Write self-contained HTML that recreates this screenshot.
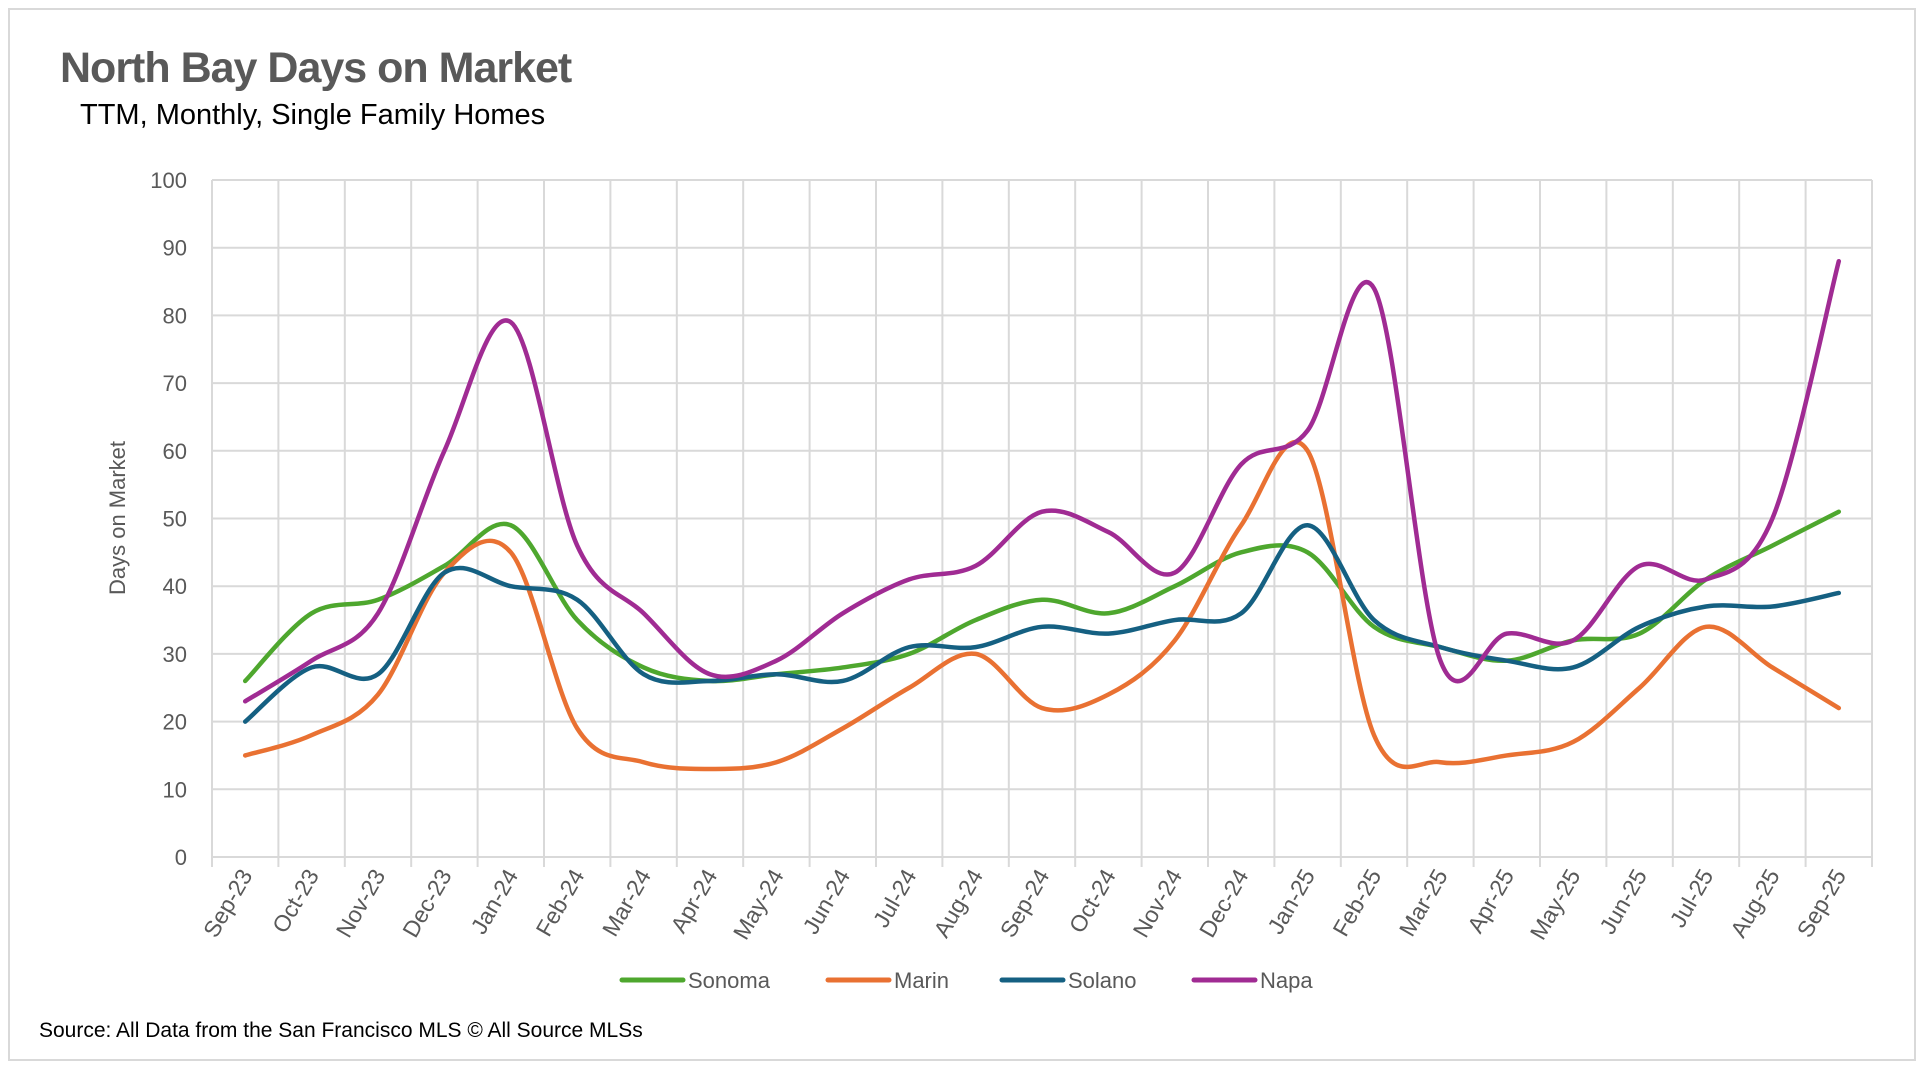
<!DOCTYPE html>
<html><head><meta charset="utf-8"><style>
html,body{margin:0;padding:0;background:#fff;}
svg{display:block;font-family:"Liberation Sans",sans-serif;}
</style></head><body>
<svg id="chart" width="1920" height="1067">
<rect x="9" y="9" width="1906" height="1051" fill="#fff" stroke="#d9d9d9" stroke-width="2"/>
<text x="60" y="82" font-size="43" font-weight="bold" fill="#595959" letter-spacing="-1">North Bay Days on Market</text>
<text x="80" y="124" font-size="29" fill="#000">TTM, Monthly, Single Family Homes</text>
<g id="grid"></g>
<g id="yticks"></g>
<g id="xticks"></g>
<text transform="translate(125,518) rotate(-90)" text-anchor="middle" font-size="22" fill="#595959">Days on Market</text>
<g id="series"></g>
<g id="legend"></g>
<text x="39" y="1037" font-size="21" fill="#000">Source: All Data from the San Francisco MLS © All Source MLSs</text>
</svg>
<script>
const categories = ["Sep-23","Oct-23","Nov-23","Dec-23","Jan-24","Feb-24","Mar-24","Apr-24","May-24","Jun-24","Jul-24","Aug-24","Sep-24","Oct-24","Nov-24","Dec-24","Jan-25","Feb-25","Mar-25","Apr-25","May-25","Jun-25","Jul-25","Aug-25","Sep-25"];
const sonoma = [26,36,38,43,49,35,28,26,27,28,30,35,38,36,40,45,45,34,31,29,32,33,41,46,51];
const marin  = [15,18,24,42,45,19,14,13,14,19,25,30,22,24,32,49,60,18,14,15,17,25,34,28,22];
const solano = [20,28,27,42,40,38,27,26,27,26,31,31,34,33,35,36,49,35,31,29,28,34,37,37,39];
const napa   = [23,29,36,60,79,46,36,27,29,36,41,43,51,48,42,58,63,84,29,33,32,43,41,50,88];
const yTicks = [0,10,20,30,40,50,60,70,80,90,100];
const seriesNames = ["Sonoma","Marin","Solano","Napa"];

const NS="http://www.w3.org/2000/svg";
const L=212,R=1872,T=180,B=857,yMax=100;
const band=(R-L)/categories.length;
const xs=i=>L+band*(i+0.5);
const ys=v=>B-(v/yMax)*(B-T);
function mk(tag,attrs,parent){const e=document.createElementNS(NS,tag);for(const k in attrs)e.setAttribute(k,attrs[k]);parent.appendChild(e);return e;}
const grid=document.getElementById('grid'),yt=document.getElementById('yticks'),xt=document.getElementById('xticks');
yTicks.forEach(v=>{
  const ln=mk('line',{x1:L,x2:R,y1:ys(v),y2:ys(v),stroke:'#d9d9d9','stroke-width':2},grid);
  
  
  const t=mk('text',{x:187,y:ys(v)+8,'text-anchor':'end','font-size':22,fill:'#595959'},yt);
  t.textContent=v;
  
  
});
for(let i=0;i<=categories.length;i++){
  const x=L+band*i;
  const ln=mk('line',{x1:x,x2:x,y1:T,y2:B+10,stroke:'#d9d9d9','stroke-width':2},grid);
  
  
}
categories.forEach((c,i)=>{
  const x=xs(i)+8,y=B+18;
  const t=mk('text',{x:x,y:y,'text-anchor':'end','font-size':23,fill:'#595959',transform:`rotate(-60 ${x} ${y})`},xt);
  t.textContent=c;
  
  
});
const colors=["#4EA72E","#E97132","#156082","#A02B93"];
const data=[sonoma,marin,solano,napa];
function smooth(vals){
  const p=vals.map((v,i)=>[xs(i),ys(v)]);
  let d=`M${p[0][0]},${p[0][1]}`;
  for(let i=0;i<p.length-1;i++){
    const p0=p[i-1]||p[i],p1=p[i],p2=p[i+1],p3=p[i+2]||p[i+1];
    const c1=[p1[0]+(p2[0]-p0[0])/6,p1[1]+(p2[1]-p0[1])/6];
    const c2=[p2[0]-(p3[0]-p1[0])/6,p2[1]-(p3[1]-p1[1])/6];
    d+=`C${c1[0]},${c1[1]} ${c2[0]},${c2[1]} ${p2[0]},${p2[1]}`;
  }
  return d;
}
const sg=document.getElementById('series');
data.forEach((vals,k)=>{
  const path=mk('path',{d:smooth(vals),fill:'none',stroke:colors[k],'stroke-width':4.5,'stroke-linecap':'round','stroke-linejoin':'round'},sg);
  
  
});
const lg=document.getElementById('legend');
const lx=[622,828,1002,1194];
seriesNames.forEach((n,k)=>{
  const ln=mk('line',{x1:lx[k],x2:lx[k]+61,y1:980,y2:980,stroke:colors[k],'stroke-width':5,'stroke-linecap':'round'},lg);
  
  
  const t=mk('text',{x:lx[k]+66,y:988,'font-size':22,fill:'#595959'},lg);
  t.textContent=n;
  
  
});
</script>
</body></html>
